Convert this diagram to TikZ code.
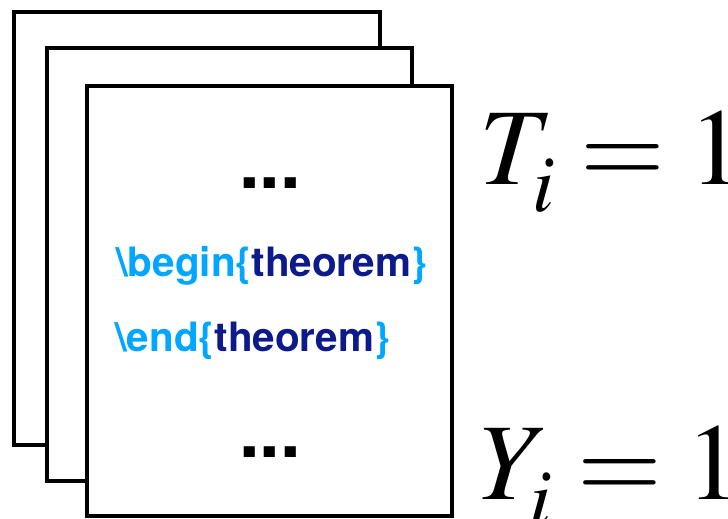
\documentclass[tikz,border=0pt]{standalone}
\usepackage{mathptmx}
\usepackage{fontspec}
\setsansfont{TeX Gyre Heros}
\usepackage{xcolor}
\usepackage{tikz}
\usetikzlibrary{positioning}
\definecolor{texcyan}{RGB}{0,166,255}
\definecolor{texnavy}{RGB}{12,26,140}
\tikzset{
  pagebox/.style={
    draw, line width=1.15pt, fill=white,
    minimum width=3.65cm, minimum height=4.33cm
  },
  dotsline/.style={
    font=\sffamily\bfseries\fontsize{21}{24}\selectfont
  },
  envline/.style={
    anchor=base west, inner sep=0pt,
    font=\sffamily\bfseries\fontsize{11.5}{13}\selectfont
  },
  indicator/.style={
    anchor=base west, inner sep=0pt,
    font=\fontsize{31}{36}\selectfont
  },
}
\newcommand{\envcmd}[2]{\textcolor{texcyan}{\textbackslash #1\{}\textcolor{texnavy}{#2}\textcolor{texcyan}{\}}}
\newcommand{\lowsub}[1]{_{\lower3pt\hbox{$\scriptstyle #1$}}}

\begin{document}
\begin{tikzpicture}[x=0.01cm, y=-0.01cm]
  \useasboundingbox (0,0) rectangle (728,519);
  \clip (0,0) rectangle (728,519);

  % ── Stack of pages ──
  \node[pagebox] (pageback) at (197,228.5) {};
  \node[pagebox] (pagemid) at (229.5,264.5) {};
  \node[pagebox, minimum height=4.30cm] (pagefront) at (269.5,301) {};

  % ── Page contents ──
  \node[dotsline] (dotstop) at (270,183) {...};
  \node[envline] (envbegin) at (116,277) {\envcmd{begin}{theorem}};
  \node[envline] (envend) at (115,352) {\envcmd{end}{theorem}};
  \node[dotsline] (dotsbottom) at (270,452) {...};

  % ── Indicators ──
  \node[indicator] (treat) at (479,185) {$T\lowsub{i} = 1$};
  \node[indicator] (outcome) at (479,499) {$Y\lowsub{i} = 1$};
\end{tikzpicture}
\end{document}
